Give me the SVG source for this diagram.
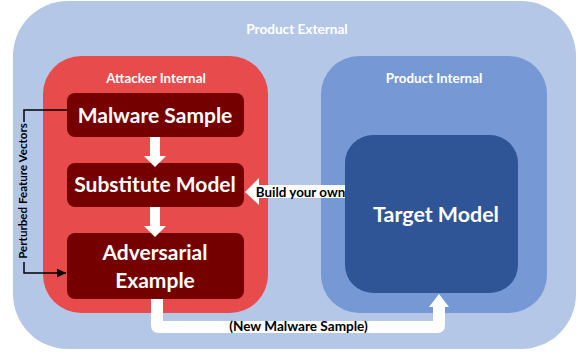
<svg xmlns="http://www.w3.org/2000/svg" width="584" height="352" viewBox="0 0 584 352">
<style>
text{font-family:Lato,"Open Sans","Liberation Sans",sans-serif;font-weight:bold;text-anchor:middle;}
.wt{fill:#ffffff;}
.bk{fill:#000000;}
.box{fill:#750000;}
.wa{fill:#ffffff;stroke:none;}
.ln{fill:none;stroke:#000000;stroke-width:1.5;}
</style>
<defs>
<marker id="ah" viewBox="0 0 10 10" refX="10" refY="5" markerWidth="6" markerHeight="6" orient="auto" markerUnits="strokeWidth">
<path d="M0,0 L10,5 L0,10 Z" fill="#000000"/>
</marker>
</defs>
<g id="product-external">
<rect x="13" y="1" width="563" height="348" rx="55" fill="#B4C7E7"/>
<text class="wt" x="297" y="34" font-size="13.6">Product External</text>
</g>
<g id="attacker-internal">
<rect x="43" y="56" width="225" height="257" rx="38" fill="#E84B4B"/>
<text class="wt" x="156" y="83" font-size="13.4">Attacker Internal</text>
</g>
<g id="product-internal">
<rect x="321" y="56" width="226" height="257" rx="38" fill="#7699D5"/>
<text class="wt" x="434" y="83" font-size="13.4">Product Internal</text>
</g>
<g id="target-model">
<rect x="345" y="135" width="173" height="158" rx="28" fill="#2F5597"/>
<text class="wt" x="436" y="222" font-size="21.4">Target Model</text>
</g>
<g id="malware-sample">
<rect class="box" x="67" y="93" width="177" height="44" rx="8"/>
<text class="wt" x="155" y="123" font-size="21">Malware Sample</text>
</g>
<g id="substitute-model">
<rect class="box" x="67" y="163" width="177" height="44" rx="8"/>
<text class="wt" x="155" y="192" font-size="21">Substitute Model</text>
</g>
<g id="adversarial-example">
<rect class="box" x="67" y="233" width="177" height="66" rx="8"/>
<text class="wt" x="155" y="260" font-size="21">Adversarial</text>
<text class="wt" x="155" y="288" font-size="21">Example</text>
</g>
<g id="connectors">
<path class="wa" d="M150,137 H160 V156 H166 L155,167 L144,156 H150 Z"/>
<path class="wa" d="M150,207 H160 V226 H166 L155,237 L144,226 H150 Z"/>
<path class="wa" d="M345,185 V198 H259 V205 L245,192 L259,178 V185 Z"/>
<text class="bk" x="300.5" y="197" font-size="13.4">Build your own</text>
<path class="wa" d="M151,299 H163 V321 H433 V307 H429 L439,294 L449,307 H445 V325 Q445,333 437,333 H159 Q151,333 151,325 Z"/>
<text class="bk" x="298.5" y="331" font-size="13.6">(New Malware Sample)</text>
<path class="ln" d="M67,110 H24 V273 H66" marker-end="url(#ah)"/>
<rect x="16" y="122" width="13" height="140" fill="#B4C7E7"/>
<text class="bk" font-size="11.6" transform="translate(27,191) rotate(-90)">Perturbed Feature Vectors</text>
</g>
</svg>
